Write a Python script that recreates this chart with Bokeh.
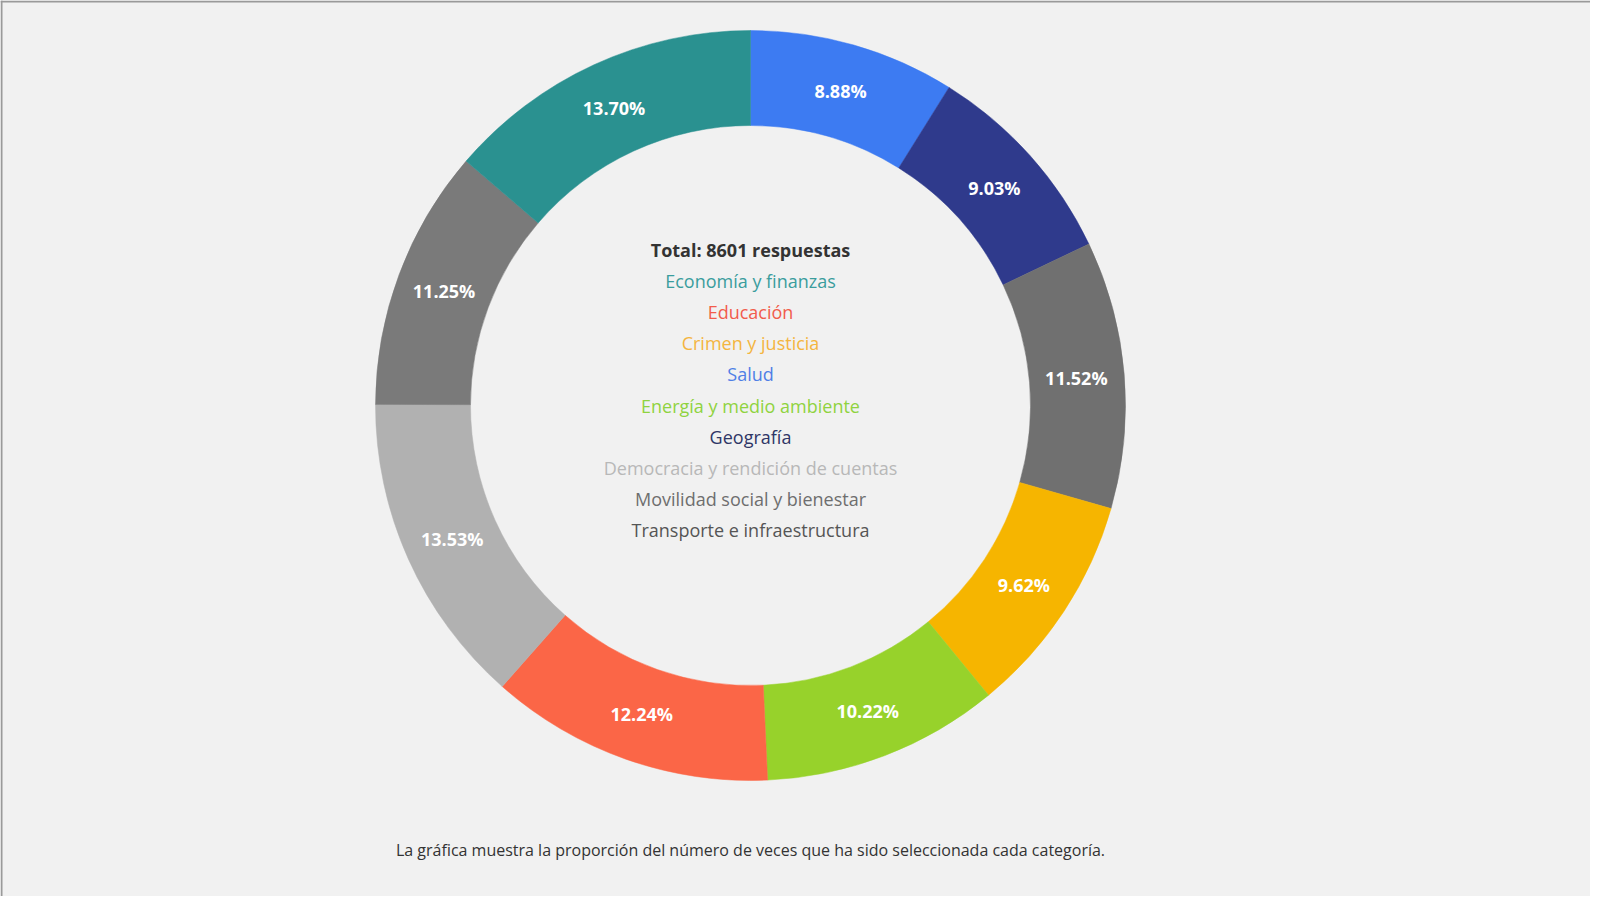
import math
from bokeh.plotting import figure
from bokeh.models import ColumnDataSource, Range1d
from bokeh.core.properties import value
from bokeh.embed import file_html
from bokeh.resources import INLINE

# ---- data (clockwise from 12 o'clock) ----
categories = ["Salud", "Geografía", "Transporte e infraestructura", "Crimen y justicia",
              "Energía y medio ambiente", "Educación", "Democracia y rendición de cuentas",
              "Movilidad social y bienestar", "Economía y finanzas"]
percentages = [8.88, 9.03, 11.52, 9.62, 10.22, 12.24, 13.53, 11.25, 13.70]
slice_colors = ["#3d7bf2", "#2f3a8c", "#707070", "#f6b500", "#97d22b",
                "#fb6647", "#b1b1b1", "#7a7a7a", "#2a9190"]

total_responses = 8601
legend_labels = ["Economía y finanzas", "Educación", "Crimen y justicia", "Salud",
                 "Energía y medio ambiente", "Geografía", "Democracia y rendición de cuentas",
                 "Movilidad social y bienestar", "Transporte e infraestructura"]
legend_colors = ["#3a9d9d", "#f25c4c", "#f4b53f", "#4f7fe6", "#8fd33f",
                 "#2f3666", "#b8b8b8", "#6e6e6e", "#555555"]
caption = "La gráfica muestra la proporción del número de veces que ha sido seleccionada cada categoría."

# ---- layout ----
W, H = 1590, 896
BG = "#f1f1f1"
cx, cy = 750, 491
r_in, r_out = 280, 375
r_lab = 327

tot = sum(percentages)
starts, ends, lx, ly, labs = [], [], [], [], []
cum = 0.0
for v in percentages:
    a0 = math.pi / 2 - 2 * math.pi * cum / tot
    cum += v
    a1 = math.pi / 2 - 2 * math.pi * cum / tot
    starts.append(a0)
    ends.append(a1)
    mid = (a0 + a1) / 2
    lx.append(cx + r_lab * math.cos(mid))
    ly.append(cy + r_lab * math.sin(mid))
    labs.append(f"{v:.2f}%")

p = figure(width=W, height=H, output_backend="svg", toolbar_location=None,
           x_range=Range1d(0, W), y_range=Range1d(0, H),
           x_axis_location=None, y_axis_location=None, min_border=0)
p.grid.visible = False
p.outline_line_color = None
p.background_fill_color = BG
p.border_fill_color = BG

src = ColumnDataSource(dict(start=starts, end=ends, color=slice_colors, cat=categories))
p.annular_wedge(x=cx, y=cy, inner_radius=r_in, outer_radius=r_out,
                start_angle="start", end_angle="end", direction="clock",
                fill_color="color", line_color="color", line_width=0.5, source=src)

lsrc = ColumnDataSource(dict(x=lx, y=ly, t=labs))
p.text(x="x", y="y", text="t", source=lsrc, text_color="white",
       text_font=value("Open Sans"), text_font_size="18px", text_font_style="bold",
       text_align="center", text_baseline="middle")

# center legend
step = 31.2
top_y = cy + 156
p.text(x=[cx], y=[top_y], text=[f"Total: {total_responses} respuestas"],
       text_color="#333333", text_font=value("Open Sans"), text_font_size="18px",
       text_font_style="bold", text_align="center", text_baseline="middle")
ys = [top_y - step * (i + 1) for i in range(len(legend_labels))]
csrc = ColumnDataSource(dict(x=[cx] * len(legend_labels), y=ys, t=legend_labels, c=legend_colors))
p.text(x="x", y="y", text="t", text_color="c", source=csrc,
       text_font=value("Open Sans"), text_font_size="18px",
       text_align="center", text_baseline="middle")

# caption
p.text(x=[cx], y=[H - (857 - 8)], text=[caption], text_color="#333333",
       text_font=value("Open Sans"), text_font_size="16px",
       text_align="center", text_baseline="middle")

# frame lines (top and left)
p.segment(x0=[0, 1], y0=[H - 1, 0], x1=[W, 1], y1=[H - 1, H],
          line_color="#9a9a9a", line_width=2)

open("out.html", "w").write(file_html(p, INLINE))
